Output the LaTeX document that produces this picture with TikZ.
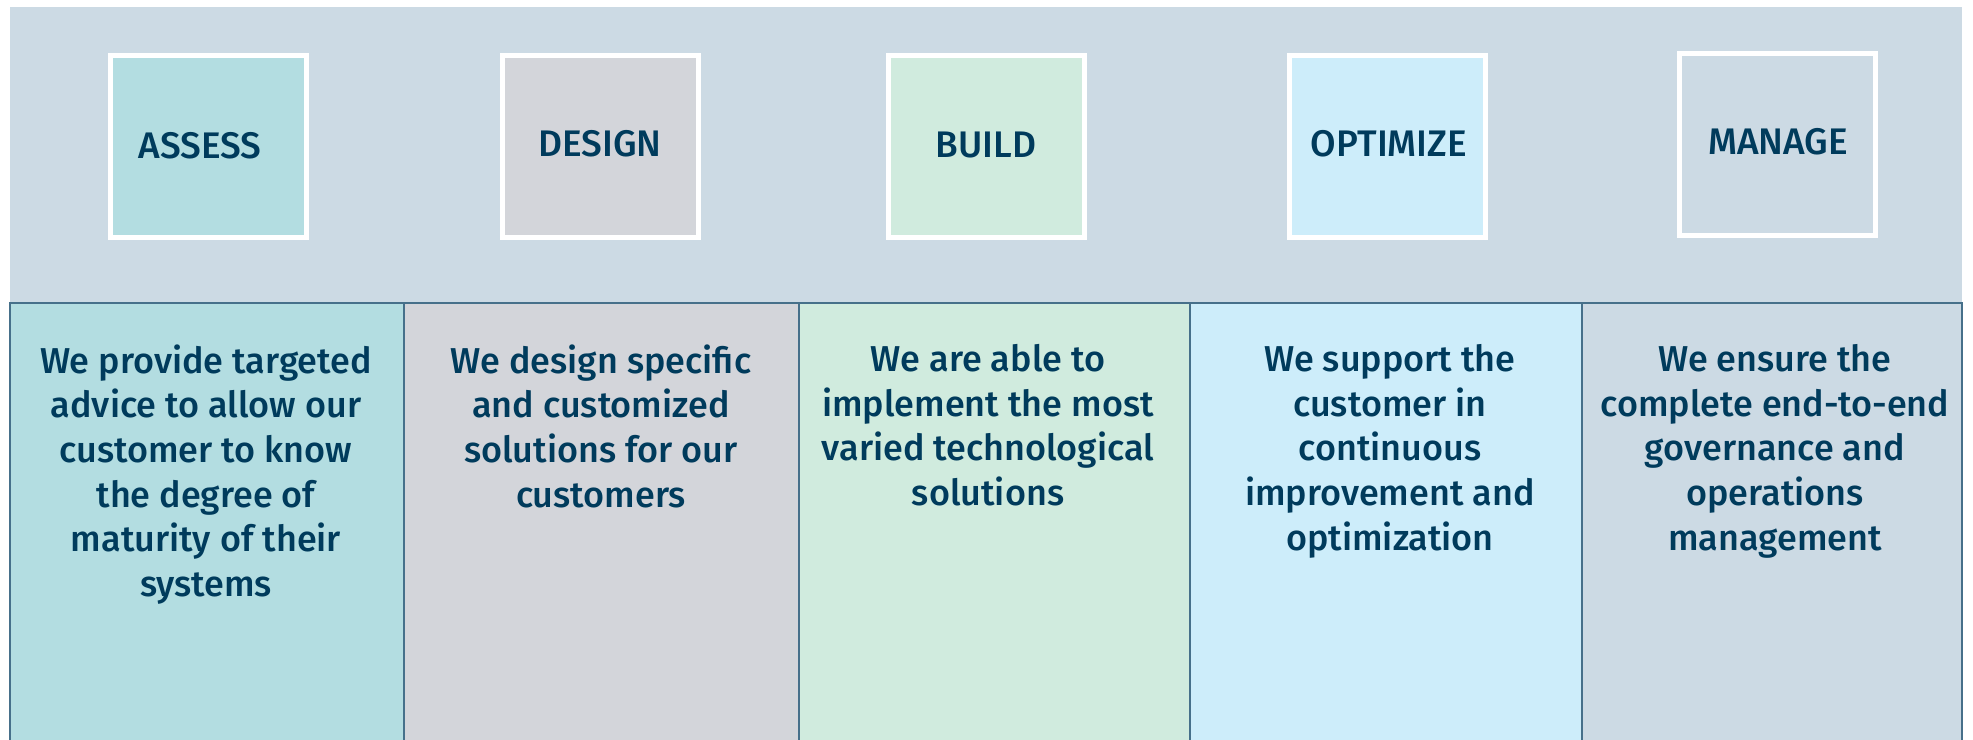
\documentclass[tikz,border=0pt]{standalone}
\usepackage{fontspec}
\setmainfont{Fira Sans}
\newfontfamily\medfont{Fira Sans Medium}
\definecolor{bandbg}{RGB}{204,218,228}
\definecolor{navy}{RGB}{0,59,92}
\definecolor{cA}{RGB}{179,221,225}
\definecolor{cD}{RGB}{211,213,218}
\definecolor{cB}{RGB}{208,235,222}
\definecolor{cO}{RGB}{205,237,250}
\definecolor{cM}{RGB}{204,218,228}
\definecolor{edge}{RGB}{70,112,138}
\begin{document}
\begin{tikzpicture}[x=1pt,y=-1pt,
  tile/.style={draw=white,line width=5pt,minimum width=196pt,minimum height=182pt,inner sep=0pt},
  titletext/.style={text=navy,font=\fontsize{37}{44}\medfont},
  column/.style={draw=edge,line width=1.5pt},
  bodytext/.style={text=navy,align=center,font=\fontsize{36}{44.6}\medfont,anchor=north}]
\useasboundingbox (0,0) rectangle (1973,739);
\fill[white] (0,0) rectangle (1973,739);
\fill[bandbg] (10,7) rectangle (1962,739);
% columns
\path[column,fill=cA] (10,303) rectangle (404,745);
\path[column,fill=cD] (404,303) rectangle (799,745);
\path[column,fill=cB] (799,303) rectangle (1190,745);
\path[column,fill=cO] (1190,303) rectangle (1582,745);
\path[column,fill=cM] (1582,303) rectangle (1962,745);
% tiles
\node[tile,fill=cA] (a1) at (208,146) {};
\node[tile,fill=cD] (a2) at (600,146) {};
\node[tile,fill=cB] (a3) at (986,146) {};
\node[tile,fill=cO] (a4) at (1387,146) {};
\node[tile,fill=cM] (a5) at (1777,144) {};
\node[titletext] (l1) at (200,146) {ASSESS};
\node[titletext] (l2) at (600,144) {DESIGN};
\node[titletext] (l3) at (986,145) {BUILD};
\node[titletext] (l4) at (1389,144) {OPTIMIZE};
\node[titletext] (l5) at (1778,142) {MANAGE};
% texts
\node[bodytext] (t1) at (206,341) {We provide targeted\\advice to allow our\\customer to know\\the degree of\\maturity of their\\systems};
\node[bodytext] (t2) at (601,341) {We design specific\\and customized\\solutions for our\\customers};
\node[bodytext] (t3) at (988,341) {We are able to\\implement the most\\varied technological\\solutions};
\node[bodytext] (t4) at (1390,341) {We support the\\customer in\\continuous\\improvement and\\optimization};
\node[bodytext] (t5) at (1775,341) {We ensure the\\complete end-to-end\\governance and\\operations\\management};
\end{tikzpicture}
\end{document}
